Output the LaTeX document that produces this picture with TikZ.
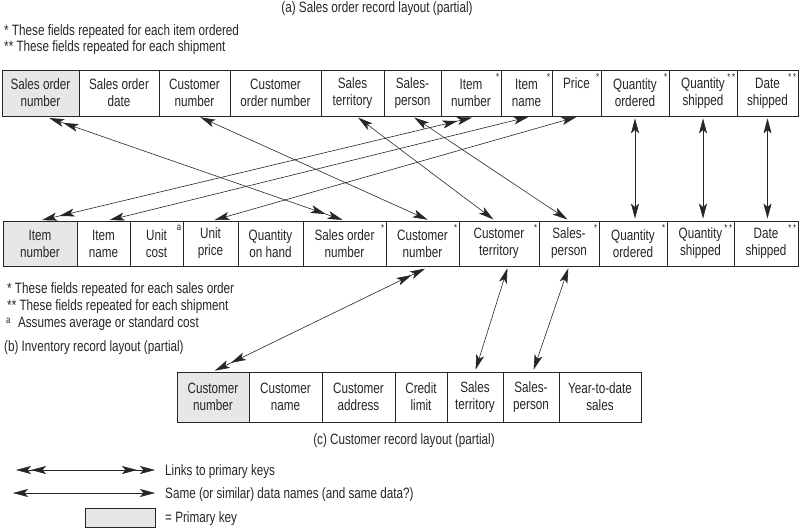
\documentclass[tikz,border=0pt]{standalone}
\usepackage{fontspec}
\setmainfont{Liberation Sans}[FakeStretch=0.78]
\usetikzlibrary{arrows.meta,positioning}
\definecolor{recInk}{RGB}{38,38,38}
\definecolor{recKey}{RGB}{231,231,231}

\begin{document}
\begin{tikzpicture}[x=1pt,y=-1pt,
  txt/.style={font=\fontsize{15}{17}\selectfont, text=recInk, inner sep=0pt},
  field/.style={txt, draw=recInk, line width=0.8pt, align=center},
  flag/.style={anchor=north east, inner sep=0pt, text=recInk, font=\fontsize{10}{10}\selectfont},
  note/.style={txt, anchor=base west},
  same/.style={recInk, line width=0.6pt, shorten <=2pt, shorten >=2pt,
    {Stealth[length=15pt,width=8pt,inset=3.5pt]}-{Stealth[length=15pt,width=8pt,inset=3.5pt]}},
  link/.style={same,
    {Stealth[length=15pt,width=8pt,inset=3.5pt,sep=3pt]Stealth[length=15pt,width=8pt,inset=3.5pt]}-{Stealth[length=15pt,width=8pt,inset=3.5pt,sep=3pt]Stealth[length=15pt,width=8pt,inset=3.5pt]}}]
\useasboundingbox (0,0) rectangle (800,529);

\node[txt, anchor=base] (titleA) at (377,13) {(a) Sales order record layout (partial)};
\node[note] (noteA1) at (4,36) {* These fields repeated for each item ordered};
\node[note] (noteA2) at (4,52) {** These fields repeated for each shipment};

\foreach \n/\l/\r/\k/\t/\f in {
  a1/2/79/recKey/{Sales order\\number}/{},
  a2/79/159/white/{Sales order\\date}/{},
  a3/159/230/white/{Customer\\number}/{},
  a4/230/321/white/{Customer\\order number}/{},
  a5/321/384/white/{Sales\\territory}/{},
  a6/384/441/white/{Sales-\\person}/{},
  a7/441/501/white/{Item\\number}/{*},
  a8/501/552/white/{Item\\name}/{*},
  a9/552/601/white/{Price\\\phantom{p}}/{*},
  a10/601/669/white/{Quantity\\ordered}/{*},
  a11/669/737/white/{Quantity\\shipped}/{*\,*},
  a12/737/798/white/{Date\\shipped}/{*\,*}}
  {\node[field, fill=\k, minimum width={(\r-\l)*1pt}, minimum height=46pt] (\n) at ({(\l+\r)/2},93) {\t};
   \node[flag] (\n-f) at ([xshift=-2pt,yshift=-4pt]\n.north east) {\f};}

\foreach \n/\l/\r/\k/\t/\f in {
  b1/3/77/recKey/{Item\\number}/{},
  b2/77/130/white/{Item\\name}/{},
  b3/130/183/white/{Unit\\cost}/{a},
  b4/183/238/white/{Unit\\price}/{},
  b5/238/303/white/{Quantity\\on hand}/{},
  b6/303/386/white/{Sales order\\number}/{*},
  b7/386/459/white/{Customer\\number}/{*},
  b8/459/539/white/{Customer\\territory}/{*},
  b9/539/599/white/{Sales-\\person}/{*},
  b10/599/667/white/{Quantity\\ordered}/{*},
  b11/667/734/white/{Quantity\\shipped}/{*\,*},
  b12/734/798/white/{Date\\shipped}/{*\,*}}
  {\node[field, fill=\k, minimum width={(\r-\l)*1pt}, minimum height=45pt] (\n) at ({(\l+\r)/2},243.5) {\t};
   \node[flag] (\n-f) at ([xshift=-2pt,yshift=-4pt]\n.north east) {\f};}

\foreach \n/\l/\r/\k/\t in {
  c1/177/249/recKey/{Customer\\number},
  c2/249/322/white/{Customer\\name},
  c3/322/395/white/{Customer\\address},
  c4/395/447/white/{Credit\\limit},
  c5/447/503/white/{Sales\\territory},
  c6/503/559/white/{Sales-\\person},
  c7/559/641/white/{Year-to-date\\sales}}
  \node[field, fill=\k, minimum width={(\r-\l)*1pt}, minimum height=50pt] (\n) at ({(\l+\r)/2},397) {\t};

\draw[link] ([xshift=4pt]a1.south) -- (b6.north);
\draw[same] ([xshift=4pt]a3.south) -- ([xshift=7pt]b7.north);
\draw[same] ([xshift=4pt]a5.south) -- ([xshift=-4pt]b8.north);
\draw[same] (a6.south) -- (b9.north);
\draw[link] ([xshift=6pt]a7.south) -- (b1.north);
\draw[same] ([xshift=4pt]a8.south) -- ([xshift=4pt]b2.north);
\draw[same] ([xshift=2pt]a9.south) -- ([xshift=2pt]b4.north);
\foreach \i in {10,11,12}
  \draw[same] (a\i.south) -- (a\i.south |- b\i.north);
\draw[link] ([xshift=7pt]b7.south) -- (c1.north);
\draw[same] ([xshift=9pt]b8.south) -- (c5.north);
\draw[same] (b9.south) -- ([xshift=2pt]c6.north);

\node[note] (noteB1) at (7,294) {* These fields repeated for each sales order};
\node[note] (noteB2) at (7,310) {** These fields repeated for each shipment};
\node[note] (noteB3) at (6,327) {{\fontsize{10}{10}\selectfont\raisebox{3.5pt}{a}}\enspace Assumes average or standard cost};
\node[note] (titleB) at (4,351) {(b) Inventory record layout (partial)};
\node[txt, anchor=base] (titleC) at (404,444) {(c) Customer record layout (partial)};

\coordinate (lk1) at (13,470);
\coordinate (lk2) at (155,470);
\draw[link, shorten <=0pt, shorten >=0pt] (lk1) -- (lk2);
\node[note] (lkText) at (165,475) {Links to primary keys};
\coordinate (sm1) at (13,493);
\coordinate (sm2) at (155,493);
\draw[same, shorten <=0pt, shorten >=0pt] (sm1) -- (sm2);
\node[note] (smText) at (165,498) {Same (or similar) data names (and same data?)};
\node[field, fill=recKey, minimum width=70pt, minimum height=19pt] (keyBox) at (120,517.5) {};
\node[note] (keyText) at (165,522) {= Primary key};
\end{tikzpicture}
\end{document}
